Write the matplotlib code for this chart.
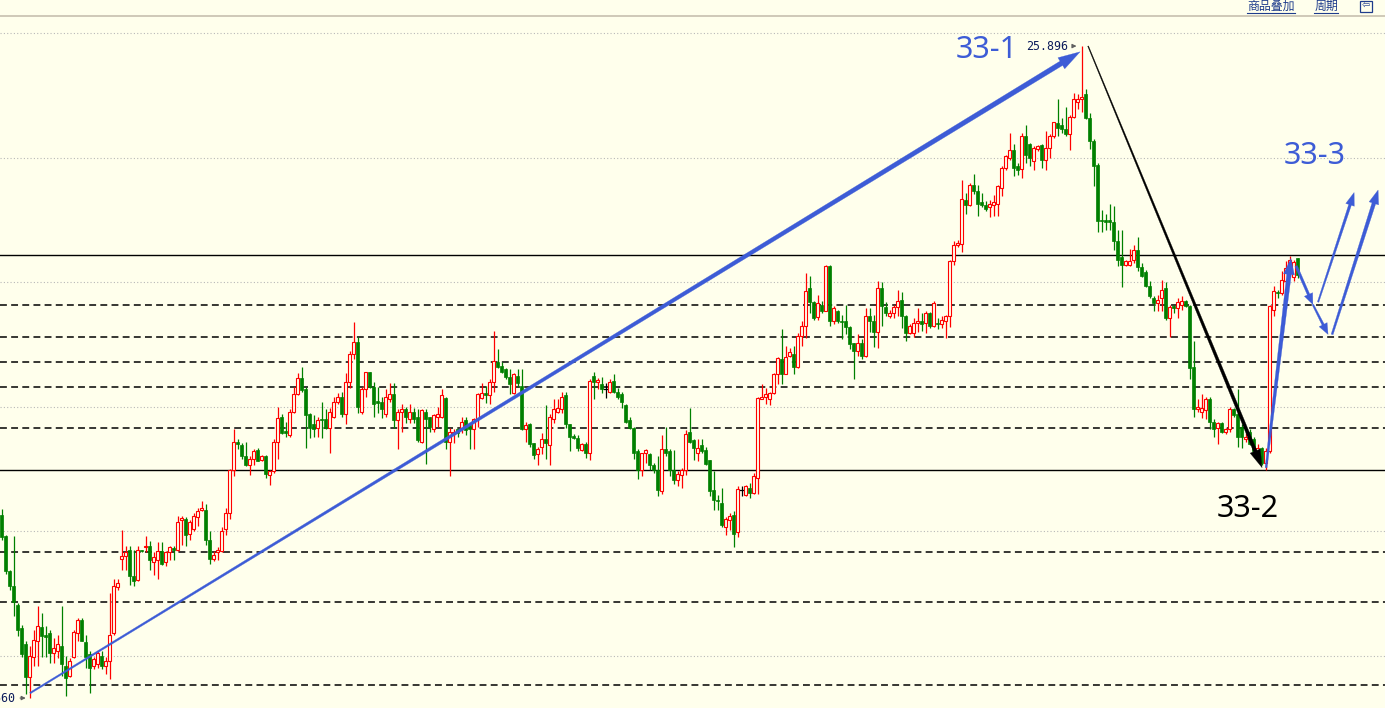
import numpy as np
import matplotlib.pyplot as plt
from matplotlib.patches import Rectangle, Polygon
from matplotlib.lines import Line2D
from matplotlib.transforms import IdentityTransform

# hourly candles, index 0..324 (open, high, low, close)
opens = [
    22.13, 21.96, 21.68, 21.56, 21.41, 21.22, 21.09, 20.83, 20.99, 21.12,
    21.23, 21.17, 21.18, 21.02, 21.04, 21.08, 20.92, 20.84, 20.99, 21.18,
    21.29, 21.11, 21.01, 20.92, 20.93, 21.00, 20.92, 20.96, 21.18, 21.55,
    21.78, 21.80, 21.85, 21.64, 21.61, 21.85, 21.87, 21.88, 21.75, 21.77,
    21.84, 21.75, 21.83, 21.86, 21.85, 22.09, 22.10, 21.98, 22.02, 22.11,
    22.17, 22.17, 21.93, 21.78, 21.83, 21.84, 22.02, 22.15, 22.49, 22.72,
    22.69, 22.60, 22.53, 22.58, 22.65, 22.57, 22.60, 22.45, 22.48, 22.72,
    22.92, 22.80, 22.77, 22.96, 23.10, 23.23, 23.14, 22.94, 22.86, 22.83,
    22.90, 22.90, 22.83, 22.92, 23.04, 23.08, 22.94, 23.20, 23.42, 23.52,
    22.96, 23.14, 23.28, 23.16, 23.04, 23.04, 22.94, 23.06, 23.10, 22.89,
    22.96, 22.98, 22.90, 22.96, 22.92, 22.72, 22.96, 22.92, 22.82, 22.92,
    22.92, 23.07, 22.72, 22.78, 22.82, 22.83, 22.89, 22.85, 22.82, 22.90,
    23.07, 23.11, 23.09, 23.20, 23.36, 23.33, 23.30, 23.24, 23.11, 23.25,
    23.17, 22.82, 22.86, 22.71, 22.62, 22.68, 22.74, 22.69, 22.90, 22.96,
    22.98, 23.09, 22.86, 22.76, 22.75, 22.65, 22.70, 22.63, 23.25, 23.20,
    23.18, 23.14, 23.12, 23.21, 23.12, 23.10, 23.01, 22.89, 22.83, 22.64,
    22.49, 22.63, 22.62, 22.53, 22.49, 22.32, 22.66, 22.64, 22.49, 22.41,
    22.45, 22.49, 22.80, 22.73, 22.63, 22.69, 22.65, 22.57, 22.33, 22.25,
    22.23, 22.03, 22.09, 22.13, 21.99, 22.33, 22.29, 22.35, 22.31, 22.43,
    23.06, 23.08, 23.06, 23.11, 23.26, 23.38, 23.26, 23.41, 23.42, 23.32,
    23.57, 23.65, 23.95, 23.84, 23.72, 23.82, 23.77, 24.13, 23.69, 23.77,
    23.69, 23.69, 23.64, 23.51, 23.45, 23.51, 23.41, 23.73, 23.69, 23.60,
    23.95, 23.80, 23.73, 23.75, 23.80, 23.86, 23.73, 23.59, 23.59, 23.67,
    23.69, 23.67, 23.75, 23.65, 23.67, 23.66, 23.69, 23.73, 24.17, 24.30,
    24.31, 24.66, 24.62, 24.78, 24.73, 24.64, 24.62, 24.60, 24.62, 24.63,
    24.76, 24.92, 25.00, 25.06, 24.93, 24.91, 25.17, 25.11, 24.97, 25.07,
    25.10, 24.98, 25.08, 25.17, 25.28, 25.26, 25.23, 25.19, 25.33, 25.45,
    25.47, 25.51, 25.32, 25.13, 24.94, 24.50, 24.50, 24.50, 24.48, 24.33,
    24.20, 24.14, 24.14, 24.18, 24.26, 24.12, 24.08, 23.97, 23.87, 23.83,
    23.87, 23.95, 23.71, 23.81, 23.79, 23.82, 23.85, 23.81, 23.32, 22.98,
    22.96, 22.97, 23.06, 22.88, 22.83, 22.87, 22.80, 22.82, 22.98, 22.94,
    22.84, 22.74, 22.80, 22.74, 22.63, 22.67, 22.55, 22.64, 23.78, 23.92,
    23.91, 24.01, 24.12, 24.04, 24.19,
]
highs = [
    22.18, 21.97, 21.69, 21.96, 21.42, 21.25, 21.12, 21.08, 21.21, 21.40,
    21.34, 21.24, 21.21, 21.14, 21.17, 21.40, 21.00, 20.98, 21.21, 21.30,
    21.30, 21.17, 21.04, 20.99, 21.04, 21.04, 20.99, 21.50, 21.62, 21.62,
    22.01, 21.88, 21.88, 21.85, 21.88, 21.85, 21.96, 21.92, 21.83, 21.91,
    21.91, 21.84, 21.88, 21.88, 22.12, 22.12, 22.11, 22.09, 22.15, 22.19,
    22.24, 22.22, 22.00, 21.84, 21.87, 22.03, 22.19, 22.50, 22.82, 22.74,
    22.71, 22.72, 22.60, 22.66, 22.67, 22.61, 22.61, 22.49, 22.74, 23.00,
    22.94, 22.88, 22.98, 23.16, 23.27, 23.32, 23.16, 22.95, 22.93, 22.92,
    23.04, 22.98, 22.99, 23.08, 23.11, 23.12, 23.27, 23.45, 23.68, 23.56,
    23.16, 23.28, 23.28, 23.20, 23.16, 23.08, 23.14, 23.19, 23.19, 22.98,
    23.02, 23.00, 23.02, 22.99, 22.98, 22.98, 22.98, 22.92, 22.94, 23.00,
    23.14, 23.08, 22.83, 22.82, 22.83, 22.92, 22.92, 22.86, 22.91, 23.11,
    23.19, 23.17, 23.22, 23.61, 23.46, 23.36, 23.31, 23.30, 23.27, 23.30,
    23.30, 22.88, 22.87, 22.71, 22.68, 22.79, 23.01, 22.94, 23.06, 23.06,
    23.12, 23.12, 22.86, 22.78, 22.77, 22.71, 22.72, 23.22, 23.28, 23.23,
    23.24, 23.19, 23.22, 23.26, 23.15, 23.12, 23.02, 22.92, 22.84, 22.66,
    22.63, 22.66, 22.63, 22.55, 22.60, 22.77, 22.84, 22.66, 22.65, 22.48,
    22.51, 22.81, 22.99, 22.74, 22.74, 22.74, 22.68, 22.57, 22.48, 22.29,
    22.35, 22.11, 22.15, 22.16, 22.36, 22.36, 22.37, 22.39, 22.47, 23.08,
    23.18, 23.15, 23.12, 23.27, 23.40, 23.62, 23.49, 23.47, 23.49, 23.59,
    23.69, 24.07, 24.05, 23.85, 23.90, 23.85, 24.14, 24.14, 23.81, 23.78,
    23.74, 23.82, 23.65, 23.51, 23.58, 23.54, 23.79, 23.79, 23.74, 24.01,
    24.00, 23.84, 23.78, 23.82, 23.94, 23.92, 23.74, 23.66, 23.71, 23.79,
    23.75, 23.77, 23.76, 23.85, 23.71, 23.73, 23.74, 24.18, 24.33, 24.34,
    24.82, 24.72, 24.80, 24.87, 24.78, 24.72, 24.65, 24.66, 24.70, 24.78,
    24.93, 25.02, 25.20, 25.11, 24.96, 25.20, 25.26, 25.12, 25.09, 25.10,
    25.11, 25.21, 25.19, 25.29, 25.47, 25.32, 25.41, 25.34, 25.52, 25.51,
    25.896, 25.55, 25.36, 25.15, 24.96, 24.58, 24.55, 24.63, 24.61, 24.42,
    24.42, 24.18, 24.27, 24.30, 24.36, 24.15, 24.10, 24.01, 23.89, 23.90,
    24.02, 24.00, 23.82, 23.82, 23.87, 23.89, 23.86, 23.82, 23.53, 23.06,
    23.10, 23.08, 23.08, 22.90, 22.88, 22.88, 22.83, 23.00, 22.99, 23.14,
    22.86, 22.79, 22.82, 22.76, 22.70, 22.68, 22.67, 23.82, 23.97, 23.94,
    24.09, 24.17, 24.21, 24.18, 24.19,
]
lows = [
    21.93, 21.66, 21.53, 21.32, 21.16, 20.99, 20.69, 20.66, 20.92, 20.92,
    20.99, 20.99, 20.94, 20.94, 20.98, 20.84, 20.68, 20.83, 20.98, 21.12,
    21.12, 20.90, 20.70, 20.89, 20.90, 20.89, 20.85, 20.81, 21.17, 21.53,
    21.69, 21.69, 21.57, 21.56, 21.60, 21.83, 21.83, 21.69, 21.65, 21.62,
    21.73, 21.72, 21.77, 21.77, 21.84, 21.89, 21.88, 21.93, 22.00, 22.04,
    22.16, 21.89, 21.74, 21.76, 21.77, 21.83, 21.97, 22.10, 22.44, 22.66,
    22.58, 22.52, 22.45, 22.53, 22.56, 22.56, 22.43, 22.37, 22.47, 22.58,
    22.78, 22.76, 22.76, 22.95, 23.09, 23.12, 22.67, 22.75, 22.76, 22.76,
    22.75, 22.82, 22.63, 22.91, 23.02, 22.92, 22.86, 23.15, 23.38, 22.95,
    22.94, 23.08, 23.15, 22.92, 22.95, 22.91, 22.92, 23.04, 22.83, 22.66,
    22.80, 22.87, 22.87, 22.87, 22.72, 22.71, 22.54, 22.80, 22.80, 22.84,
    22.91, 22.66, 22.44, 22.71, 22.76, 22.79, 22.77, 22.66, 22.66, 22.84,
    23.06, 23.03, 23.02, 23.12, 23.31, 23.27, 23.22, 23.10, 23.10, 23.16,
    22.81, 22.72, 22.68, 22.58, 22.53, 22.62, 22.58, 22.53, 22.87, 22.95,
    22.95, 22.83, 22.64, 22.74, 22.64, 22.64, 22.59, 22.57, 23.06, 23.14,
    23.11, 23.07, 23.11, 23.11, 23.06, 22.99, 22.87, 22.82, 22.58, 22.42,
    22.44, 22.55, 22.49, 22.47, 22.28, 22.30, 22.60, 22.44, 22.38, 22.36,
    22.35, 22.45, 22.71, 22.57, 22.56, 22.63, 22.53, 22.28, 22.17, 22.17,
    22.03, 21.97, 22.01, 21.87, 21.95, 22.28, 22.28, 22.27, 22.30, 22.30,
    23.06, 23.02, 23.01, 23.10, 23.18, 23.18, 23.26, 23.40, 23.26, 23.31,
    23.49, 23.55, 23.75, 23.70, 23.70, 23.75, 23.77, 23.65, 23.66, 23.67,
    23.54, 23.58, 23.46, 23.22, 23.41, 23.38, 23.40, 23.60, 23.48, 23.47,
    23.65, 23.73, 23.71, 23.71, 23.73, 23.63, 23.53, 23.58, 23.56, 23.60,
    23.61, 23.59, 23.63, 23.64, 23.62, 23.63, 23.55, 23.64, 24.14, 24.28,
    24.24, 24.55, 24.61, 24.71, 24.53, 24.60, 24.57, 24.52, 24.53, 24.53,
    24.69, 24.90, 24.98, 24.85, 24.86, 24.84, 24.96, 24.93, 24.90, 25.05,
    24.92, 24.90, 25.00, 25.16, 25.17, 25.20, 25.17, 25.06, 25.32, 25.39,
    25.37, 25.31, 25.07, 24.77, 24.40, 24.40, 24.42, 24.42, 24.26, 24.13,
    23.96, 24.13, 24.13, 24.15, 24.09, 24.04, 23.96, 23.87, 23.77, 23.77,
    23.77, 23.70, 23.56, 23.75, 23.71, 23.78, 23.80, 23.22, 22.92, 22.96,
    22.91, 22.90, 22.82, 22.76, 22.70, 22.79, 22.78, 22.80, 22.92, 22.68,
    22.67, 22.72, 22.69, 22.63, 22.62, 22.53, 22.49, 22.63, 23.73, 23.87,
    23.90, 24.00, 24.10, 24.01, 24.03,
]
closes = [
    21.95, 21.68, 21.56, 21.43, 21.21, 21.01, 20.83, 21.00, 21.13, 21.24,
    21.16, 21.15, 21.02, 21.06, 21.09, 20.93, 20.82, 20.96, 21.19, 21.29,
    21.12, 20.99, 20.90, 20.97, 21.02, 20.92, 20.96, 21.17, 21.56, 21.58,
    21.80, 21.83, 21.64, 21.60, 21.85, 21.84, 21.88, 21.77, 21.79, 21.84,
    21.74, 21.83, 21.87, 21.85, 22.07, 22.10, 21.97, 22.07, 22.12, 22.16,
    22.19, 21.93, 21.78, 21.81, 21.85, 22.00, 22.15, 22.49, 22.72, 22.70,
    22.60, 22.53, 22.58, 22.64, 22.56, 22.60, 22.46, 22.48, 22.72, 22.91,
    22.79, 22.79, 22.96, 23.10, 23.23, 23.13, 22.93, 22.83, 22.82, 22.89,
    22.89, 22.83, 22.96, 23.04, 23.08, 22.94, 23.20, 23.42, 23.52, 23.00,
    23.14, 23.28, 23.16, 23.02, 23.03, 22.98, 23.08, 23.10, 22.89, 22.96,
    22.98, 22.92, 22.96, 22.90, 22.73, 22.97, 22.90, 22.84, 22.93, 22.94,
    23.09, 22.72, 22.80, 22.80, 22.79, 22.88, 22.81, 22.82, 22.90, 23.10,
    23.11, 23.09, 23.20, 23.37, 23.32, 23.28, 23.24, 23.18, 23.26, 23.19,
    22.82, 22.85, 22.70, 22.61, 22.66, 22.74, 22.71, 22.92, 22.98, 22.99,
    23.08, 22.86, 22.76, 22.75, 22.67, 22.70, 22.63, 23.21, 23.20, 23.21,
    23.14, 23.14, 23.20, 23.12, 23.08, 23.04, 22.88, 22.83, 22.63, 22.49,
    22.63, 22.65, 22.53, 22.49, 22.33, 22.66, 22.63, 22.49, 22.41, 22.46,
    22.49, 22.78, 22.72, 22.67, 22.67, 22.64, 22.54, 22.32, 22.25, 22.24,
    22.05, 22.10, 22.12, 21.98, 22.34, 22.33, 22.36, 22.31, 22.44, 23.07,
    23.08, 23.10, 23.11, 23.26, 23.39, 23.26, 23.40, 23.44, 23.32, 23.57,
    23.65, 23.93, 23.84, 23.71, 23.83, 23.77, 24.13, 23.69, 23.79, 23.69,
    23.68, 23.64, 23.50, 23.45, 23.51, 23.41, 23.73, 23.69, 23.60, 23.95,
    23.81, 23.75, 23.75, 23.80, 23.85, 23.73, 23.59, 23.65, 23.67, 23.69,
    23.66, 23.75, 23.65, 23.83, 23.66, 23.70, 23.73, 24.17, 24.30, 24.31,
    24.67, 24.62, 24.78, 24.73, 24.63, 24.62, 24.59, 24.63, 24.64, 24.77,
    24.92, 25.01, 25.06, 24.92, 24.90, 25.17, 25.02, 25.00, 25.08, 25.09,
    24.98, 25.08, 25.17, 25.29, 25.24, 25.23, 25.19, 25.33, 25.47, 25.47,
    25.49, 25.32, 25.13, 24.93, 24.49, 24.49, 24.48, 24.48, 24.33, 24.18,
    24.14, 24.17, 24.17, 24.26, 24.12, 24.05, 23.97, 23.89, 23.83, 23.86,
    23.94, 23.71, 23.80, 23.79, 23.84, 23.85, 23.81, 23.31, 22.98, 23.00,
    22.99, 23.06, 22.88, 22.82, 22.87, 22.80, 22.82, 22.98, 22.93, 22.76,
    22.76, 22.76, 22.70, 22.64, 22.67, 22.55, 22.64, 23.81, 23.93, 23.91,
    24.02, 24.11, 24.18, 24.16, 24.06,
]

solid_levels = [24.218, 22.491]
dashed_levels = [23.814, 23.557, 23.356, 23.156, 22.826, 21.830, 21.429, 20.764]
grid_levels = [21, 22, 23, 24, 25, 26]
peak_text = "25.896"
low_text = "20.660"
wave_labels = ["33-1", "33-2", "33-3"]
menu_items = ["商品叠加", "周期"]

BG = '#FFFFEC'
UP = '#FF0000'
DOWN = '#008000'
BLUE = '#3D5CD6'
W, H = 1385, 708

fig = plt.figure(figsize=(W / 100, H / 100), dpi=100, facecolor=BG)
ax = fig.add_axes([0, 0, 1, 1])
ax.set_xlim(-0.425, 345.825)
ax.set_ylim(20.580, 26.266)
ax.axis('off')

# grid and levels
for g in grid_levels:
    ax.axhline(g, color='#B8B8B8', lw=0.8, ls=(0, (1, 2)), zorder=1)
for lv in dashed_levels:
    ax.axhline(lv, color='black', lw=1.1, ls=(0, (4.5, 2.8)), zorder=1)
for lv in solid_levels:
    ax.axhline(lv, color='black', lw=1.0, zorder=1)

# candles
for i, (o, h, l, c) in enumerate(zip(opens, highs, lows, closes)):
    if c > o:
        col = UP
    elif c < o:
        col = DOWN
    else:
        col = 'black'
    ax.plot([i, i], [l, h], color=col, lw=0.9, zorder=2, solid_capstyle='butt')
    bottom = min(o, c)
    hgt = max(abs(c - o), 0.012)
    if c > o:
        ax.add_patch(Rectangle((i - 0.4, bottom), 0.8, hgt, fc=BG, ec=UP, lw=0.8, zorder=3))
    elif c < o:
        ax.add_patch(Rectangle((i - 0.4, bottom), 0.8, hgt, fc=DOWN, ec=DOWN, lw=0.5, zorder=3))
    else:
        ax.plot([i - 0.45, i + 0.45], [c, c], color='black', lw=0.9, zorder=3)


def taper_arrow(p0, p1, w0, w1, color, head_len=0.0, head_w=0.0, z=6):
    a = ax.transData.transform(p0)
    b = ax.transData.transform(p1)
    d = (b - a) / np.hypot(*(b - a))
    n = np.array([-d[1], d[0]])
    e = b - d * head_len
    pts = [a + n * w0 / 2, e + n * w1 / 2]
    if head_len:
        pts += [e + n * head_w / 2, b, e - n * head_w / 2]
    pts += [e - n * w1 / 2, a - n * w0 / 2]
    ax.add_patch(Polygon(pts, closed=True, fc=color, ec=color, lw=0.2,
                         transform=IdentityTransform(), zorder=z))


# wave 33-1
taper_arrow((7.1, 20.70), (269.6, 25.85), 1.6, 5.0, BLUE, 22, 13)
# wave 33-2
taper_arrow((271.6, 25.896), (315.1, 22.51), 0.9, 3.6, 'black', 18, 11)
# wave 33-3 sketch
taper_arrow((316.1, 22.51), (322.3, 24.19), 2.0, 4.6, BLUE, 16, 11)
taper_arrow((323.6, 24.13), (327.8, 23.82), 2.6, 2.6, BLUE, 11, 9)
taper_arrow((327.8, 23.82), (331.6, 23.58), 1.6, 2.4, BLUE, 11, 9)
taper_arrow((329.1, 23.84), (338.1, 24.72), 1.5, 2.8, BLUE, 13, 9)
taper_arrow((332.6, 23.58), (344.1, 24.74), 2.0, 3.8, BLUE, 14, 10)

lab_font = ['Noto Sans', 'DejaVu Sans']
ax.text(246.3, 25.865, wave_labels[0], color=BLUE, fontsize=22, family=lab_font,
        ha='center', va='center', zorder=7)
ax.text(311.6, 22.18, wave_labels[1], color='black', fontsize=22, family=lab_font,
        ha='center', va='center', zorder=7)
ax.text(328.3, 25.01, wave_labels[2], color=BLUE, fontsize=22, family=lab_font,
        ha='center', va='center', zorder=7)

# high / low markers
ax.text(266.6, 25.896, peak_text, color='#0A1A5A', fontsize=8.4, family='DejaVu Sans Mono',
        ha='right', va='center', zorder=7)
ax.annotate('', xy=(269.4, 25.896), xytext=(267.1, 25.896),
            arrowprops=dict(arrowstyle='-|>', color='#606060', lw=0.8, mutation_scale=6), zorder=7)
ax.text(3.3, 20.66, low_text, color='#0A1A5A', fontsize=8.4, family='DejaVu Sans Mono',
        ha='right', va='center', zorder=7)
ax.annotate('', xy=(6.7, 20.66), xytext=(3.9, 20.66),
            arrowprops=dict(arrowstyle='-|>', color='#606060', lw=0.8, mutation_scale=6), zorder=7)

# top menu strip
fig.add_artist(Line2D([0, 1], [1 - 16 / H] * 2, transform=fig.transFigure, color='#CFC9B8', lw=1.4))
menu_x = [1271, 1326]
for txt, xc in zip(menu_items, menu_x):
    fig.text(xc / W, 1 - 6 / H, txt, color='#1E3C8C', fontsize=8.6,
             family=['Noto Sans CJK SC', 'DejaVu Sans'], ha='center', va='center')
    half = len(txt) * 6
    fig.add_artist(Line2D([(xc - half) / W, (xc + half) / W], [1 - 13 / H] * 2,
                          transform=fig.transFigure, color='#1E3C8C', lw=0.8))
fig.add_artist(Rectangle((1360 / W, 1 - 12 / H), 12 / W, 11 / H, transform=fig.transFigure,
                         fill=False, ec='#1E3C8C', lw=0.9))
fig.text(1366 / W, 1 - 6 / H, '⇦', color='#1E3C8C', fontsize=7, ha='center', va='center')

fig.savefig('out.png', dpi=100, facecolor=BG)
